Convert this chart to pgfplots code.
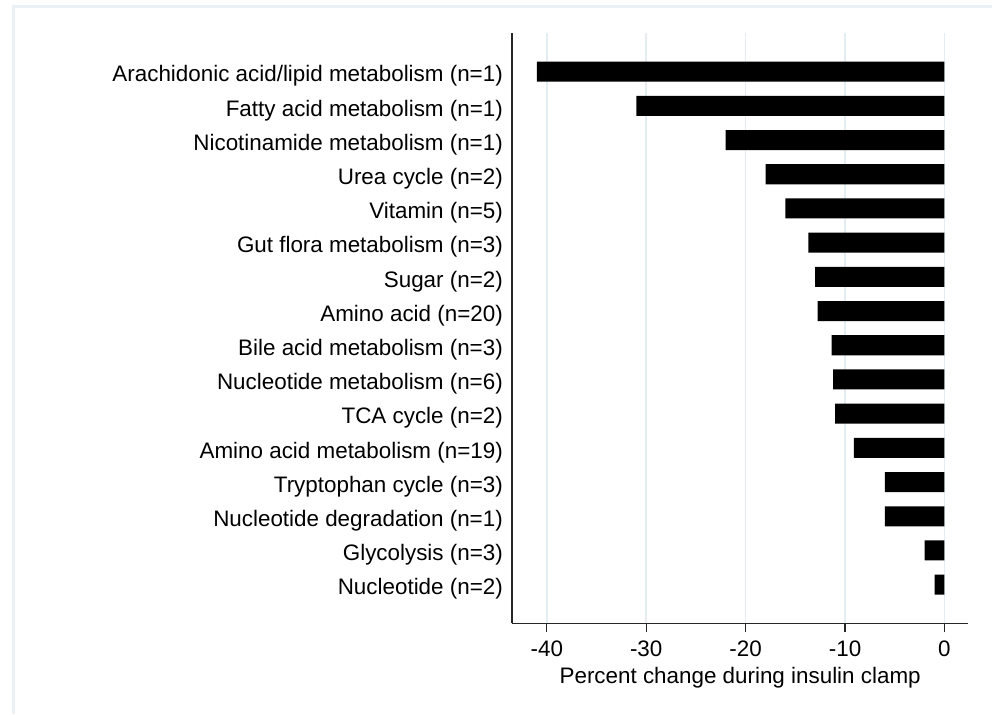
\documentclass[border=0pt]{standalone}
\usepackage{fontspec}
\setmainfont{Liberation Sans}
\usepackage{pgfplots}
\pgfplotsset{compat=1.18}
\definecolor{gridc}{RGB}{228,238,242}
\definecolor{framec}{RGB}{234,240,243}
\begin{document}
\begin{tikzpicture}
\useasboundingbox (0pt,0pt) rectangle (992pt,-714pt);
\fill[white] (0pt,0pt) rectangle (992pt,-714pt);
\draw[framec, line width=3pt] (13.5pt,-714pt) -- (13.5pt,-7pt) -- (992pt,-7pt);
\begin{axis}[
  at={(512pt,-33pt)}, anchor=north west,
  scale only axis, width=456.3pt, height=590.3pt,
  xbar, bar shift=0pt, bar width=0.585,
  xmin=-43.5, xmax=2.4, ymin=-0.13, ymax=17.13,
  axis x line*=bottom, axis y line*=left,
  axis line style={black!85, line width=1.2pt},
  xtick={-40,-30,-20,-10,0},
  ytick={1,...,16},
  yticklabels={Nucleotide (n=2),Glycolysis (n=3),Nucleotide degradation (n=1),Tryptophan cycle (n=3),Amino acid metabolism (n=19),TCA cycle (n=2),Nucleotide metabolism (n=6),Bile acid metabolism (n=3),Amino acid (n=20),Sugar (n=2),Gut flora metabolism (n=3),Vitamin (n=5),Urea cycle (n=2),Nicotinamide metabolism (n=1),Fatty acid metabolism (n=1),Arachidonic acid/lipid metabolism (n=1)},
  tick align=outside, major tick length=9pt,
  xtick style={black!85, line width=1.2pt},
  ytick style={draw=none},
  xmajorgrids, grid style={gridc, line width=1.5pt},
  /pgf/number format/assume math mode=true,
  ticklabel style={font=\fontsize{22.4}{26}\selectfont},
  xticklabel style={anchor=base, yshift=-24.4pt},
  yticklabel style={anchor=base east, inner sep=0pt, yshift=-10.3pt},
  xlabel={Percent change during insulin clamp},
  xlabel style={font=\fontsize{22.4}{26}\selectfont, at={(axis description cs:0.5,0)}, anchor=base, yshift=-60.5pt},
]
\addplot[fill=black, draw=none] coordinates {
(-1.0,1) (-2.0,2) (-6.0,3) (-6.0,4) (-9.1,5) (-11.0,6) (-11.2,7) (-11.35,8)
(-12.75,9) (-13.0,10) (-13.7,11) (-16.0,12) (-18.0,13) (-22.0,14) (-31.0,15) (-41.0,16)
};
\end{axis}
\end{tikzpicture}
\end{document}
